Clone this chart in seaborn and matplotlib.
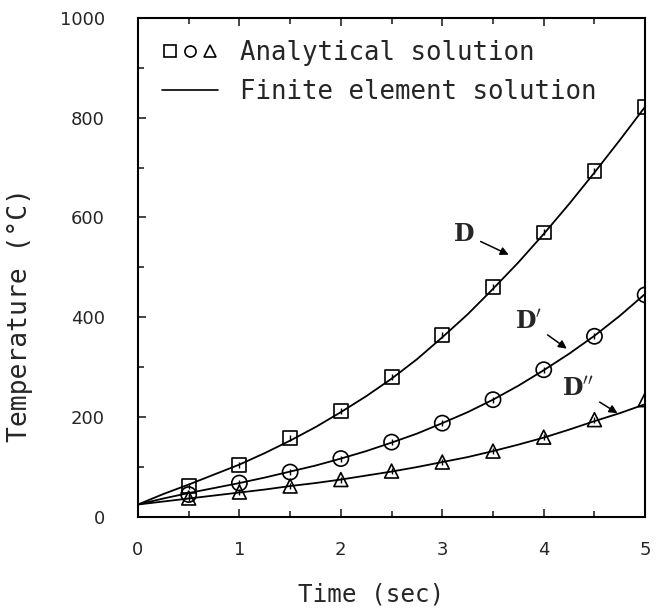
import numpy as np
import pandas as pd
import seaborn as sns
import matplotlib
matplotlib.use("Agg")
import matplotlib.pyplot as plt
from matplotlib.lines import Line2D
from matplotlib.legend_handler import HandlerTuple

sns.set_style("ticks")
plt.rcParams['font.family'] = ['DejaVu Sans']

# analytical points
t_pts = [0.5, 1.0, 1.5, 2.0, 2.5, 3.0, 3.5, 4.0, 4.5, 5.0]
D_pts = [62, 105, 158, 212, 280, 365, 460, 570, 693, 822]
D1_pts = [45, 68, 90, 117, 150, 188, 235, 295, 362, 445]
D2_pts = [38, 50, 62, 75, 92, 110, 132, 160, 195, 235]

# finite element curves
t_fe = [0, 0.25, 0.5, 0.75, 1.0, 1.25, 1.5, 1.75, 2.0, 2.25, 2.5, 2.75, 3.0,
        3.25, 3.5, 3.75, 4.0, 4.25, 4.5, 4.75, 5.0]
D_fe = [25, 46, 65, 85, 105, 128, 153, 180, 210, 242, 277, 316, 360, 406, 457,
        510, 567, 627, 690, 755, 822]
D1_fe = [25, 37, 48, 58, 68, 79, 91, 103, 117, 132, 149, 167, 188, 210, 235,
         263, 294, 327, 363, 403, 447]
D2_fe = [25, 31, 37, 43, 49, 55, 62, 68, 75, 83, 91, 100, 110, 120, 132, 145,
         159, 175, 192, 208, 226]

fig = plt.figure(figsize=(6.57, 6.14), dpi=100)
ax = fig.add_axes([0.21, 0.158, 0.772, 0.813])

fe = pd.DataFrame({'t': t_fe * 3,
                   'T': D_fe + D1_fe + D2_fe,
                   's': ['D'] * len(t_fe) + ["D'"] * len(t_fe) + ["D''"] * len(t_fe)})
sns.lineplot(data=fe, x='t', y='T', units='s', estimator=None, color='black',
             lw=1.3, ax=ax, legend=False)

markers = ['s', 'o', '^']
sizes = [100, 120, 100]
for vals, m, sz in zip([D_pts, D1_pts, D2_pts], markers, sizes):
    sns.scatterplot(x=t_pts, y=vals, marker=m, s=sz, facecolor='none',
                    edgecolor='black', linewidth=1.2, ax=ax, legend=False, zorder=3)
    sns.scatterplot(x=t_pts, y=vals, marker='|', s=25, color='black',
                    linewidth=1.0, ax=ax, legend=False, zorder=4)

ax.set_xlim(0, 5)
ax.set_ylim(0, 1000)
ax.set_xticks([0, 1, 2, 3, 4, 5])
ax.set_xticks([0.5, 1.5, 2.5, 3.5, 4.5], minor=True)
ax.set_yticks([0, 200, 400, 600, 800, 1000])
ax.set_yticks([100, 300, 500, 700, 900], minor=True)
ax.tick_params(which='both', direction='in', top=True, right=False,
               labelsize=13, width=1.2)
ax.tick_params(axis='y', pad=24)
ax.tick_params(axis='x', pad=17)
ax.tick_params(which='major', length=6)
ax.tick_params(which='minor', length=4)
for sp in ax.spines.values():
    sp.set_linewidth(1.5)
    sp.set_color('black')

mono = 'DejaVu Sans Mono'
ax.set_xlabel('Time (sec)', fontsize=17.5, family=mono)
ax.set_ylabel('Temperature (°C)', fontsize=19, family=mono)
ax.xaxis.set_label_coords(0.46, -0.132)
ax.yaxis.set_label_coords(-0.207, 0.405)

ann = dict(arrowstyle='-|>', color='black', lw=1.1, mutation_scale=12)
ax.annotate('D', xy=(3.68, 523), xytext=(3.22, 567), fontsize=17,
            fontweight='bold', family='DejaVu Serif', ha='center', va='center',
            arrowprops=ann)
ax.annotate("D$'$", xy=(4.25, 334), xytext=(3.85, 392), fontsize=17,
            fontweight='bold', family='DejaVu Serif', ha='center', va='center',
            arrowprops=ann)
ax.annotate("D$''$", xy=(4.75, 205), xytext=(4.34, 257), fontsize=17,
            fontweight='bold', family='DejaVu Serif', ha='center', va='center',
            arrowprops=ann)

h_markers = tuple(Line2D([], [], ls='none', marker=m, mfc='none', mec='black',
                         ms=8, mew=1.2) for m in markers)
h_line = Line2D([], [], color='black', lw=1.2)
leg = ax.legend([h_markers, h_line],
                ['Analytical solution', 'Finite element solution'],
                handler_map={tuple: HandlerTuple(ndivide=None, pad=0.1)},
                loc='upper left', bbox_to_anchor=(0.047, 0.955), frameon=False,
                prop={'family': mono, 'size': 18.5}, handlelength=2.2,
                handletextpad=0.85, labelspacing=0.5, borderaxespad=0,
                borderpad=0)

fig.savefig('out.png', dpi=100)
